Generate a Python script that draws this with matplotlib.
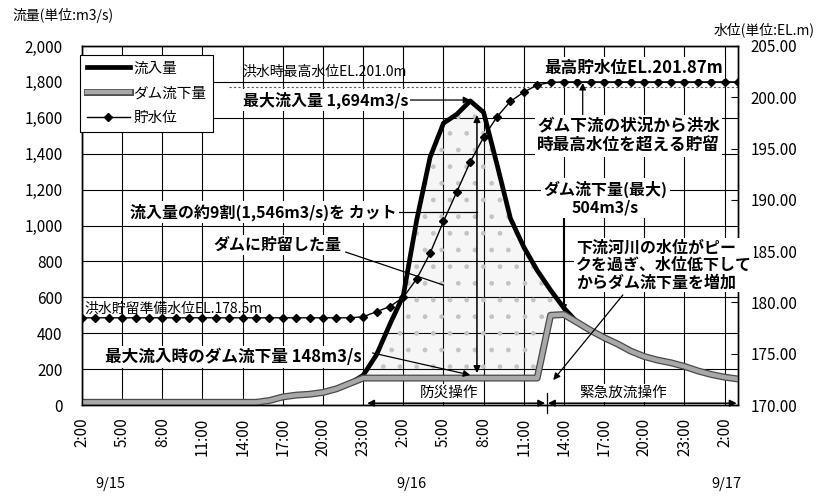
import matplotlib
matplotlib.use("Agg")
import matplotlib.pyplot as plt
import matplotlib.patheffects as pe

plt.rcParams['font.family'] = ['Noto Sans CJK JP', 'DejaVu Sans']

# --- data (hourly, hour 0 = 9/15 2:00) ---
hours = list(range(50))
inflow = [15, 15, 15, 15, 15, 15, 15, 15, 15, 15, 15, 15, 15, 15,
          25, 45, 55, 60, 70, 90, 120, 165, 280, 450, 610, 1030, 1380, 1570,
          1620, 1694, 1630, 1340, 1040, 880, 750, 640, 540, 460, 415, 375,
          340, 300, 270, 250, 235, 215, 190, 170, 155, 145]
outflow = [15, 15, 15, 15, 15, 15, 15, 15, 15, 15, 15, 15, 15, 15,
           25, 45, 55, 60, 70, 90, 120, 150, 150, 150, 150, 150, 150, 150,
           150, 150, 150, 150, 150, 150, 150, 500, 504, 460, 415, 375,
           340, 300, 270, 250, 235, 215, 190, 170, 155, 145]
level = [178.5, 178.5, 178.5, 178.5, 178.5, 178.5, 178.5, 178.5, 178.5, 178.5,
         178.5, 178.5, 178.5, 178.5, 178.5, 178.5, 178.5, 178.5, 178.5, 178.5,
         178.5, 178.6, 179.1, 179.6, 180.5, 182.3, 184.8, 187.9, 190.8, 193.7,
         196.1, 198.1, 199.6, 200.5, 201.2, 201.45, 201.5, 201.5, 201.5, 201.5,
         201.5, 201.5, 201.5, 201.5, 201.5, 201.5, 201.5, 201.5, 201.5, 201.5]

tick_hours = [0, 3, 6, 9, 12, 15, 18, 21, 24, 27, 30, 33, 36, 39, 42, 45, 48]
tick_labels = ["2:00", "5:00", "8:00", "11:00", "14:00", "17:00", "20:00", "23:00",
               "2:00", "5:00", "8:00", "11:00", "14:00", "17:00", "20:00", "23:00", "2:00"]
date_labels = ["9/15", "9/16", "9/17"]
date_hours = [2.1, 24.6, 48.1]
flow_ticks = [0, 200, 400, 600, 800, 1000, 1200, 1400, 1600, 1800, 2000]
level_ticks = [170, 175, 180, 185, 190, 195, 200, 205]

fig = plt.figure(figsize=(8.19, 4.97), dpi=100)
ax = fig.add_axes([82 / 819, 1 - 405 / 497, 656 / 819, 359 / 497])
ax2 = ax.twinx()

# --- flows ---
ax.fill_between(hours, outflow, inflow, where=[i >= o for i, o in zip(inflow, outflow)],
                facecolor=(0.5, 0.5, 0.5, 0.07), edgecolor='#c4c4c4', hatch='.', lw=0, zorder=1)
l_in, = ax.plot(hours, inflow, color='black', lw=3.4, zorder=3, solid_joinstyle='round')
l_out, = ax.plot(hours, outflow, color='#a8a8a8', lw=3.2, zorder=4,
                 path_effects=[pe.Stroke(linewidth=5, foreground='#4a4a4a'), pe.Normal()])

ax.set_xlim(0, 49)
ax.set_ylim(0, 2000)
ax.set_xticks(tick_hours)
ax.set_xticklabels(tick_labels, rotation=90)
ax.set_yticks(flow_ticks)
ax.set_yticklabels([f"{v:,}" for v in flow_ticks])
ax.grid(True, color='black', lw=0.8)
ax.set_axisbelow(True)
ax.tick_params(axis='x', length=0, pad=9, labelsize=11)
ax.tick_params(axis='y', length=0, pad=14, labelsize=11)

# --- water level ---
ax2.plot([11, 49], [201.0, 201.0], color='#555555', lw=0.8, ls=(0, (2, 2)), zorder=1)
l_lv, = ax2.plot(hours, level, color='black', lw=1.0, marker='D', ms=4.5, zorder=2)
ax2.set_ylim(170, 205)
ax2.set_yticks(level_ticks)
ax2.set_yticklabels([f"{v:.2f}" for v in level_ticks])
ax2.tick_params(axis='y', direction='in', length=5, pad=9, labelsize=11)
for a in (ax, ax2):
    for s in a.spines.values():
        s.set_color('black')
        s.set_linewidth(1.0)

for d, h in zip(date_labels, date_hours):
    ax.text(h, -0.22, d, transform=ax.get_xaxis_transform(), ha='center', va='center', fontsize=10.5)

fig.text(12 / 819, 1 - 15 / 497, "流量(単位:m3/s)", ha='left', va='center', fontsize=10)
fig.text(815 / 819, 1 - 30 / 497, "水位(単位:EL.m)", ha='right', va='center', fontsize=10)

leg = ax2.legend([l_in, l_out, l_lv], ["流入量", "ダム流下量", "貯水位"], loc='upper left',
                 bbox_to_anchor=(-0.003, 0.975), borderaxespad=0, fancybox=False,
                 edgecolor='black', framealpha=1, fontsize=10.5, handlelength=3.0,
                 handletextpad=0.2, labelspacing=0.75, borderpad=0.45)
leg.get_frame().set_linewidth(0.8)
leg.set_zorder(8)

# --- annotations (in flow coordinates) ---
T = ax.transData
box = dict(facecolor='white', edgecolor='none', pad=1.5)
arrow = dict(arrowstyle='-|>', color='black', lw=0.9, mutation_scale=10, shrinkA=0, shrinkB=0)
dbl = dict(arrowstyle='<|-|>', color='black', lw=1.1, mutation_scale=10, shrinkA=0, shrinkB=0)


def note(x, y, s, **kw):
    kw.setdefault('fontsize', 11.5)
    kw.setdefault('fontweight', 'bold')
    kw.setdefault('va', 'center')
    return ax2.text(x, y, s, transform=T, zorder=7, **kw)


def link(x0, y0, x1, y1, props=arrow):
    ax2.annotate('', xy=(x1, y1), xytext=(x0, y0), xycoords=T, textcoords=T,
                 arrowprops=props, zorder=6, annotation_clip=False)


note(12.0, 1855, "洪水時最高水位EL.201.0m", fontsize=10, fontweight='normal')
note(12.0, 1699, "最大流入量 1,694m3/s", bbox=box)
link(22.0, 1699, 29.0, 1699)

link(29.5, 1615, 29.5, 178, dbl)
ax2.plot([20, 29.5], [1075, 1075], transform=T, color='black', lw=0.9, zorder=6)
note(3.6, 1075, "流入量の約9割(1,546m3/s)を カット", bbox=box)

ax2.plot([19.7, 27.0], [852, 668], transform=T, color='black', lw=0.9, zorder=6)
note(9.8, 891, "ダムに貯留した量", bbox=box)

note(0.15, 535, "洪水貯留準備水位EL.178.5m", fontsize=10, fontweight='normal')

link(21.7, 290, 29.0, 167)
note(1.7, 267, "最大流入時のダム流下量 148m3/s", fontsize=12, bbox=box)

note(34.5, 1877, "最高貯水位EL.201.87m", fontsize=12, bbox=box)
link(37.4, 1590, 37.4, 1794)
note(34.0, 1499, "ダム下流の状況から洪水\n時最高水位を超える貯留", fontsize=12,
     linespacing=1.1, bbox=box)

link(35.97, 1114, 35.97, 520)
note(39.1, 1153, "ダム流下量(最大)\n504m3/s", ha='center', multialignment='center',
     linespacing=1.15, bbox=box)

link(40.4, 613, 35.2, 139)
note(36.9, 780, "下流河川の水位がピー\nクを過ぎ、水位低下して\nからダム流下量を増加",
     linespacing=1.1, bbox=box)

# operation periods
link(21.3, 10, 34.6, 10, dbl)
link(34.8, 10, 48.9, 10, dbl)
ax2.plot([34.7, 34.7], [-45, 67], transform=T, color='black', lw=0.9, zorder=6, clip_on=False)
note(27.4, 67, "防災操作", fontsize=10.5, fontweight='normal', ha='center', bbox=box)
note(40.4, 67, "緊急放流操作", fontsize=10.5, fontweight='normal', ha='center', bbox=box)

fig.savefig("out.png", dpi=100)
